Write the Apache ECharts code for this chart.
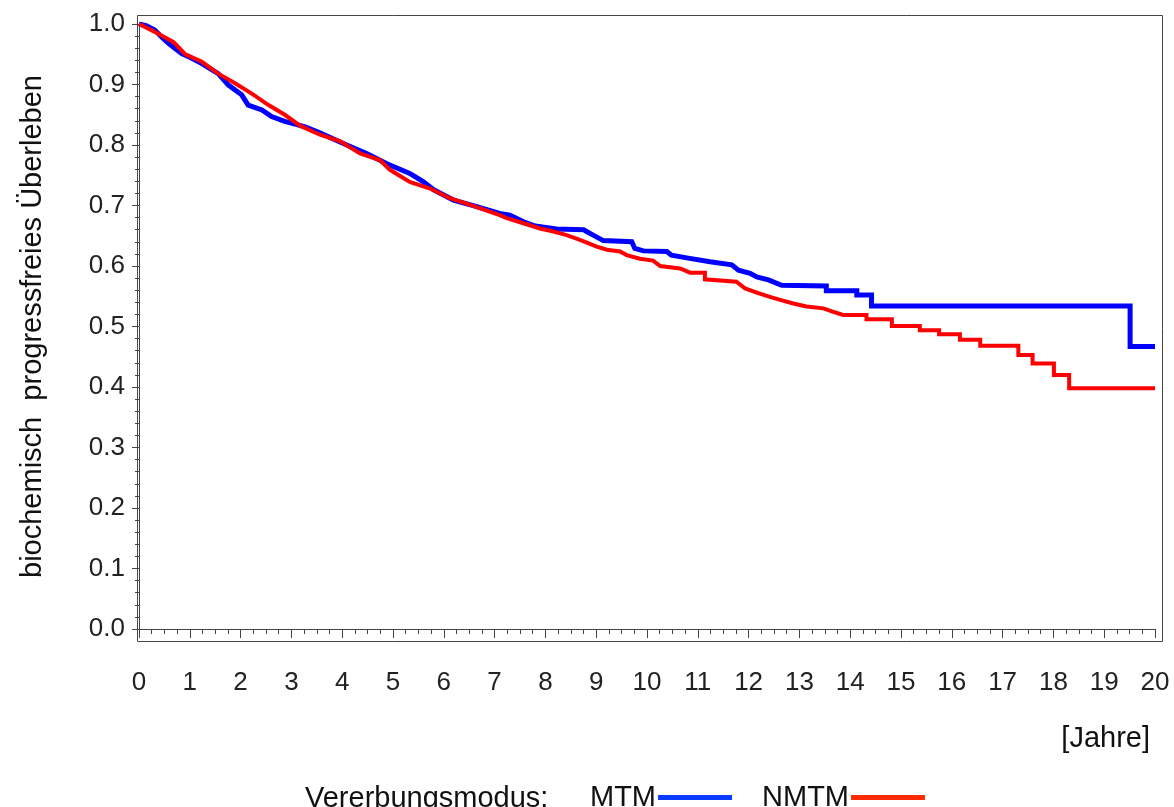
<!DOCTYPE html>
<html>
<head>
<meta charset="utf-8">
<script src="https://cdn.jsdelivr.net/npm/echarts@6/dist/echarts.min.js"></script>
<style>
  html, body { margin: 0; padding: 0; background: #fff; }
  #chart { width: 1174px; height: 807px; }
</style>
</head>
<body>
<div id="chart"></div>
<script>
// Kaplan-Meier curves: [Jahre, Überleben]
const mtm = [
  [0, 1.0], [0.15, 0.997], [0.31, 0.99], [0.45, 0.978], [0.58, 0.968], [0.84, 0.951],
  [1.0, 0.945], [1.23, 0.935], [1.56, 0.918], [1.76, 0.899], [2.02, 0.883], [2.15, 0.866],
  [2.42, 0.858], [2.61, 0.847], [2.87, 0.839], [3.27, 0.830], [3.56, 0.820], [4.09, 0.800],
  [4.48, 0.786], [4.88, 0.769], [5.33, 0.753], [5.6, 0.739], [5.8, 0.726], [6.19, 0.709],
  [6.65, 0.698], [7.1, 0.687], [7.3, 0.684], [7.57, 0.673], [7.8, 0.666], [8.22, 0.661],
  [8.75, 0.660], [8.81, 0.657], [8.94, 0.651], [9.14, 0.642], [9.7, 0.640], [9.76, 0.629],
  [9.93, 0.625], [10.39, 0.624], [10.48, 0.618], [10.81, 0.613], [11.24, 0.607], [11.67, 0.602],
  [11.8, 0.593], [12.03, 0.588], [12.16, 0.582], [12.39, 0.577], [12.65, 0.568], [13.53, 0.567],
  [13.53, 0.559], [14.13, 0.559], [14.13, 0.552], [14.42, 0.552], [14.42, 0.534],
  [19.51, 0.534], [19.51, 0.467], [20.0, 0.467]
];
const nmtm = [
  [0, 1.0], [0.31, 0.987], [0.55, 0.976], [0.68, 0.970], [0.91, 0.950], [1.23, 0.938],
  [1.56, 0.918], [1.89, 0.902], [2.22, 0.885], [2.55, 0.866], [2.87, 0.850], [3.17, 0.832],
  [3.56, 0.817], [3.96, 0.806], [4.35, 0.786], [4.74, 0.775], [4.94, 0.759], [5.33, 0.739],
  [5.73, 0.728], [6.12, 0.712], [6.52, 0.701], [7.1, 0.684], [7.24, 0.679], [7.63, 0.669],
  [7.89, 0.662], [8.16, 0.657], [8.42, 0.651], [8.68, 0.643], [9.01, 0.632], [9.21, 0.627],
  [9.47, 0.624], [9.6, 0.618], [9.86, 0.612], [10.12, 0.609], [10.26, 0.600], [10.65, 0.596],
  [10.85, 0.589], [11.14, 0.589], [11.14, 0.578], [11.76, 0.574], [11.93, 0.563], [12.19, 0.555],
  [12.42, 0.549], [12.62, 0.544], [12.88, 0.538], [13.14, 0.533], [13.47, 0.530], [13.64, 0.525],
  [13.86, 0.519], [14.32, 0.519], [14.32, 0.512], [14.82, 0.512], [14.82, 0.501], [15.37, 0.501],
  [15.37, 0.494], [15.75, 0.494], [15.75, 0.487], [16.16, 0.487], [16.16, 0.478], [16.56, 0.478],
  [16.56, 0.468], [17.31, 0.468], [17.31, 0.453], [17.59, 0.453], [17.59, 0.439], [18.01, 0.439],
  [18.01, 0.420], [18.31, 0.420], [18.31, 0.398], [20.0, 0.398]
];
const seriesNames = ['MTM', 'NMTM'];

const font = 'Liberation Sans, Arial, Helvetica, sans-serif';
const axisColor = '#444';
const chart = echarts.init(document.getElementById('chart'));
chart.setOption({
  animation: false,
  backgroundColor: '#fff',
  grid: { left: 139, right: 19, top: 24, bottom: 178 },
  xAxis: {
    type: 'value', min: 0, max: 20, interval: 1, offset: 10,
    axisLine: { show: true, lineStyle: { color: axisColor } },
    axisTick: { length: 9, lineStyle: { color: axisColor } },
    minorTick: { show: true, splitNumber: 4, length: 5, lineStyle: { color: axisColor } },
    splitLine: { show: false },
    axisLabel: { margin: 31, fontSize: 26, color: '#222', fontFamily: font }
  },
  yAxis: {
    type: 'value', min: 0, max: 1, interval: 0.1, offset: 4,
    name: 'biochemisch  progressfreies Überleben',
    nameLocation: 'middle', nameGap: 88,
    nameTextStyle: { fontSize: 29, color: '#111', fontFamily: font },
    axisLine: { show: true, lineStyle: { color: axisColor } },
    axisTick: { length: 7, lineStyle: { color: axisColor } },
    minorTick: { show: true, splitNumber: 5, length: 4, lineStyle: { color: axisColor } },
    splitLine: { show: false },
    axisLabel: {
      margin: 10, fontSize: 26, color: '#222', fontFamily: font,
      formatter: v => v.toFixed(1)
    }
  },
  legend: {
    left: 585, top: 778, align: 'right', itemGap: 30,
    itemWidth: 74, itemHeight: 5, icon: 'rect',
    textStyle: { fontSize: 29, color: '#111', fontFamily: font, padding: [0, -3, 0, 0] },
    data: [
      { name: seriesNames[0], itemStyle: { color: '#0a3cff' } },
      { name: seriesNames[1], itemStyle: { color: '#ff2a00' } }
    ]
  },
  graphic: [
    {
      type: 'rect', left: 135, top: 13, silent: true,
      shape: { width: 1025, height: 626 },
      style: { fill: 'none', stroke: axisColor, lineWidth: 1 }
    },
    {
      type: 'text', right: 24, top: 724,
      style: { text: '[Jahre]', fontSize: 29, fill: '#111', fontFamily: font }
    },
    {
      type: 'text', left: 305, top: 784,
      style: { text: 'Vererbungsmodus:', fontSize: 29, fill: '#111', fontFamily: font }
    }
  ],
  series: [
    {
      name: seriesNames[0], type: 'line', data: mtm, showSymbol: false,
      lineStyle: { color: '#0000ff', width: 5, join: 'miter' }, itemStyle: { color: '#0000ff' }, z: 2
    },
    {
      name: seriesNames[1], type: 'line', data: nmtm, showSymbol: false,
      lineStyle: { color: '#ff0000', width: 4, join: 'miter' }, itemStyle: { color: '#ff0000' }, z: 3
    }
  ]
});
</script>
</body>
</html>
